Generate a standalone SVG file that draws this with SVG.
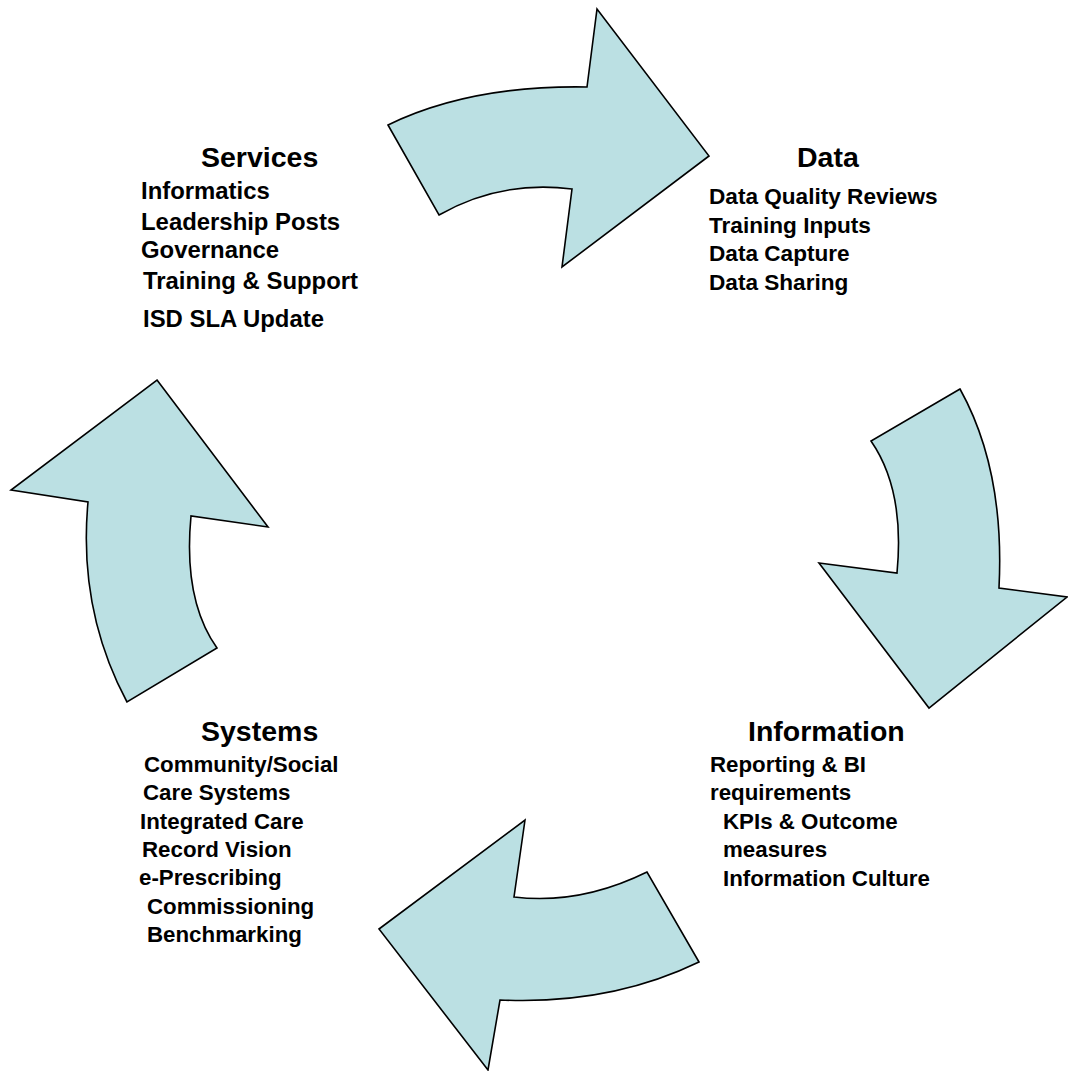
<svg xmlns="http://www.w3.org/2000/svg" width="1068" height="1071" viewBox="0 0 1068 1071">
<style>
.arrow{fill:#BBE0E3;stroke:#000;stroke-width:1.6;stroke-linejoin:miter}
text{font-family:"Liberation Sans",Arial,sans-serif;font-weight:bold;fill:#000}
.title{font-size:28.5px}
.item{font-size:23px}
#services .item{font-size:23.9px}
#data .item{font-size:22.6px}
#information .item{font-size:22.3px}
#systems .item{font-size:22.3px}
</style>
<rect width="1068" height="1071" fill="#fff"/>
<g id="connectors">
<path id="arrow-top" class="arrow" d="M388,125 Q470,85 587,87 L597,9 L709,156 L562,267 L572,189 Q500,180 439,215 Z"/>
<path id="arrow-right" class="arrow" d="M960,389 L871,441 Q905,490 897,573 L819,563 L929,708 L1067,597 L999,588 Q1005,470 960,389 Z"/>
<path id="arrow-bottom" class="arrow" d="M525,820 L514,897 Q580,905 647,872 L699,962 Q610,1005 500,1000 L488,1070 L379,929 Z"/>
<path id="arrow-left" class="arrow" d="M157,380 L268,527 L191,516 Q183,600 217,648 L127,702 Q78,610 88,502 L11,490 Z"/>
</g>
<g id="services">
<text class="title" x="201" y="167">Services</text>
<text class="item" x="141" y="199">Informatics</text>
<text class="item" x="141" y="230">Leadership Posts</text>
<text class="item" x="141" y="258">Governance</text>
<text class="item" x="143" y="289">Training &amp; Support</text>
<text class="item" x="143" y="327">ISD SLA Update</text>
</g>
<g id="data">
<text class="title" x="797" y="167">Data</text>
<text class="item" x="709" y="204">Data Quality Reviews</text>
<text class="item" x="709" y="233">Training Inputs</text>
<text class="item" x="709" y="261">Data Capture</text>
<text class="item" x="709" y="290">Data Sharing</text>
</g>
<g id="information">
<text class="title" x="748" y="741">Information</text>
<text class="item" x="710" y="772">Reporting &amp; BI</text>
<text class="item" x="710" y="800">requirements</text>
<text class="item" x="723" y="829">KPIs &amp; Outcome</text>
<text class="item" x="723" y="857">measures</text>
<text class="item" x="723" y="886">Information Culture</text>
</g>
<g id="systems">
<text class="title" x="201" y="741">Systems</text>
<text class="item" x="144" y="772">Community/Social</text>
<text class="item" x="143" y="800">Care Systems</text>
<text class="item" x="140" y="829">Integrated Care</text>
<text class="item" x="142" y="857">Record Vision</text>
<text class="item" x="139" y="885">e-Prescribing</text>
<text class="item" x="147" y="914">Commissioning</text>
<text class="item" x="147" y="942">Benchmarking</text>
</g>
</svg>
